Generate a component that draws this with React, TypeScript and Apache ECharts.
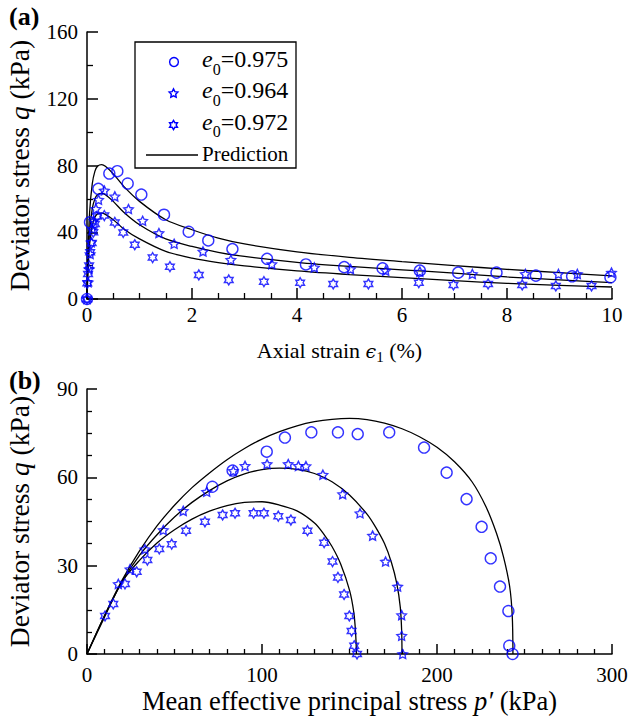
import React, { useEffect, useRef } from 'react';
import * as echarts from 'echarts';

const BLUE = '#0000ff';
const FONT = 'Liberation Serif';
const TICK_FS = 21;

// ---------- Panel (a): deviator stress vs axial strain ----------
const predStrain = [0, 0.02, 0.05, 0.1, 0.15, 0.2, 0.28, 0.35, 0.5, 0.7, 1.0, 1.5, 2.0, 2.5, 3.0, 4.0, 5.0, 6.0, 7.0, 8.0, 9.0, 10.0];
const predQa975 = [0, 28, 52, 69, 76.5, 79.5, 80.5, 79.5, 75, 67.5, 58.5, 47.5, 41.5, 36.5, 33, 28.3, 25, 22.4, 20, 17.8, 15.8, 13.8];
const predQa964 = [0, 22, 41, 54, 60, 62.5, 63.3, 62.5, 58.5, 52, 44.5, 36, 31.5, 28, 25.5, 22, 19.5, 17.5, 15.5, 13.2, 11.5, 9.8];
const predQa972 = [0, 18, 33, 44, 49, 51, 51.5, 50.7, 47.5, 42, 36, 28.5, 24.5, 21.8, 19.8, 16.8, 14.6, 12.8, 11, 9.4, 8.2, 7.2];

const circStrain = [0, 0.057, 0.216, 0.425, 0.578, 0.775, 1.035, 1.467, 1.937, 2.31, 2.77, 3.43, 4.17, 4.9, 5.63, 6.34, 7.07, 7.8, 8.55, 9.24, 9.97];
const circQa = [0, 46, 66, 75.2, 76.6, 69.2, 62.6, 50.5, 40.3, 35.1, 29.9, 24.1, 20.7, 19.1, 18.4, 17, 15.8, 15.8, 14, 13.6, 13];

const star5Strain = [0, 0.02, 0.04, 0.06, 0.08, 0.1, 0.13, 0.17, 0.22, 0.33, 0.53, 0.79, 1.06, 1.37, 1.66, 2.21, 2.74, 3.52, 4.33, 5.02, 5.69, 6.34, 7.34, 8.35, 8.98, 9.34, 9.99];
const star5Qa = [0, 10, 18, 27, 34, 42, 47, 54, 59.5, 65, 61.5, 53.9, 46.9, 39.5, 33.1, 28.5, 23.5, 20.9, 18.9, 17.9, 17, 16.4, 15, 15, 15, 15, 15.8];

const star6Strain = [0, 0.006, 0.02, 0.04, 0.06, 0.09, 0.12, 0.15, 0.19, 0.33, 0.53, 0.69, 0.91, 1.25, 1.58, 2.13, 2.7, 3.37, 4.06, 4.69, 5.36, 6.32, 6.98, 7.64, 8.29, 8.93, 9.61];
const star6Qa = [0, 9.4, 15, 20, 28, 33.5, 40, 45, 49.5, 50, 45.9, 39.9, 32.5, 24.8, 19.4, 14.4, 11.4, 10.4, 9.8, 9.0, 9.0, 9.8, 8.4, 9.0, 8.4, 7.8, 7.8];

// ---------- Panel (b): stress path q vs p' ----------
const predP975 = [0, 10, 20, 30, 40, 50, 60, 70, 80, 90, 100, 110, 120, 130, 140, 150, 160, 170, 180, 190, 200, 210, 220, 228, 234, 238, 241.5, 243, 243.4];
const predQb975 = [0, 13, 25, 35, 43.5, 50.5, 56.5, 61.5, 66, 69.8, 73, 75.5, 77.5, 78.9, 79.7, 80, 79.6, 78.4, 76.5, 73.8, 70.2, 65.3, 58.5, 50, 41, 33, 23, 13, 0];
const predP964 = [0, 10, 20, 30, 40, 50, 60, 70, 80, 90, 100, 110, 120, 130, 140, 150, 160, 165, 170, 174, 177, 179, 179.8, 180];
const predQb964 = [0, 13, 24.5, 33.5, 40.5, 46.5, 51.5, 55.5, 58.8, 61.2, 62.6, 63.1, 62.7, 61.3, 58.5, 54, 47.5, 43, 37.5, 31, 24, 16, 8, 0];
const predP972 = [0, 10, 20, 30, 40, 50, 60, 70, 80, 90, 100, 110, 120, 130, 135, 140, 145, 150, 152.5, 153.5, 154];
const predQb972 = [0, 12.5, 24.5, 31.8, 37.7, 42.2, 45.8, 48.5, 50.4, 51.5, 51.7, 50.6, 48.6, 44.5, 41, 36.5, 30.5, 21.7, 14, 7, 0];

const circP = [71.6, 83.2, 102.7, 113.1, 128.2, 143.4, 154.7, 172.7, 192.6, 205.5, 216.9, 225.5, 230.7, 236, 240.8, 241.3, 243.2];
const circQb = [56.8, 62.3, 68.7, 73.5, 75.3, 75.3, 74.7, 75.3, 70.1, 61.6, 52.6, 43.2, 32.5, 22.9, 14.6, 2.8, 0];

const star5P = [17.9, 24.6, 33.1, 43.6, 55, 68.4, 83.6, 90.3, 102.9, 115, 120.8, 125.1, 134.8, 146.1, 156, 163.2, 170.6, 177.5, 179.8, 179.8, 180.4];
const star5Qb = [23.8, 28.8, 35.6, 42.1, 48.6, 55.1, 62.2, 63.9, 64.5, 64.5, 63.9, 63.8, 60.9, 54.3, 47.8, 40.2, 31.4, 22.9, 13.2, 6.2, 0];

const star6P = [10.3, 15, 21.7, 28.4, 34.5, 41.3, 48.4, 56.6, 67.4, 77.5, 84.6, 95.2, 101.1, 109.3, 116.5, 126, 135.5, 140.3, 143.4, 146.9, 149.9, 151.2, 152.7, 154.3];
const star6Qb = [12.9, 17, 23.8, 27.9, 31.9, 35.7, 37.3, 41.9, 44.9, 47.2, 47.8, 47.8, 47.8, 46.8, 45.5, 41.9, 37.8, 31.4, 26, 20.2, 12.9, 7.8, 2.8, 0];

const legendNames = ['0.975', '0.964', '0.972'];

// ---------- helpers ----------
const zip = (xs: number[], ys: number[]) => xs.map((x, i) => [x, ys[i]]);

function starPts(cx: number, cy: number, R: number, r: number, n: number): number[][] {
  const pts: number[][] = [];
  for (let k = 0; k < 2 * n; k++) {
    const rad = k % 2 === 0 ? R : r;
    const a = -Math.PI / 2 + (k * Math.PI) / n;
    pts.push([cx + rad * Math.cos(a), cy + rad * Math.sin(a)]);
  }
  return pts;
}
function starPath(n: number, ratio: number) {
  const p = starPts(0, 0, 10, 10 * ratio, n);
  return 'path://M' + p.map((q) => q[0].toFixed(3) + ' ' + q[1].toFixed(3)).join(' L') + ' Z';
}
const STAR5 = starPath(5, 0.5);
const STAR6 = starPath(6, 0.5774);

const richTitle = (fs: number) => ({
  n: { fontFamily: FONT, fontSize: fs, color: '#000' },
  i: { fontFamily: FONT, fontSize: fs, fontStyle: 'italic', color: '#000' },
  e: { fontFamily: 'DejaVu Serif', fontSize: fs - 3, fontStyle: 'italic', color: '#000' },
  s: { fontFamily: FONT, fontSize: Math.round(fs * 0.66), color: '#000', padding: [Math.round(fs * 0.55), 0, 0, 0] },
});

const axisCommon = (gridIndex: number, tickLen: number, fs: number, pad: number[] = [0, 0, 0, 0]) => ({
  gridIndex,
  type: 'value' as const,
  axisLine: { show: true, onZero: false, lineStyle: { color: '#000', width: 1.5 } },
  axisTick: { show: true, inside: true, length: tickLen, lineStyle: { color: '#000', width: 1.5 } },
  splitLine: { show: false },
  nameLocation: 'middle' as const,
  nameTextStyle: { color: '#000', fontFamily: FONT, fontSize: fs, padding: pad, rich: richTitle(fs) },
});
const labelStyle = (margin: number) => ({ color: '#000', fontFamily: FONT, fontSize: TICK_FS, fontWeight: 'normal', margin });
const minor = (splitNumber: number, length: number) => ({ show: true, splitNumber, length, lineStyle: { color: '#000', width: 1.3 } });

const lineS = (xi: number, data: number[][]) => ({
  type: 'line',
  xAxisIndex: xi,
  yAxisIndex: xi,
  data,
  showSymbol: false,
  symbol: 'none',
  smooth: 0.3,
  lineStyle: { color: '#000', width: 1.3 },
  z: 2,
});
const scat = (xi: number, data: number[][], symbol: string, size: number | number[]) => ({
  type: 'scatter',
  xAxisIndex: xi,
  yAxisIndex: xi,
  data,
  symbol,
  symbolSize: size,
  itemStyle: { color: 'rgba(0,0,0,0)', borderColor: BLUE, borderWidth: 1.4 },
  z: 3,
});

export default function App() {
  const ref = useRef<HTMLDivElement>(null);
  useEffect(() => {
    const chart = echarts.init(ref.current!, null, { renderer: 'svg' });

    const legRich = {
      i: { fontFamily: FONT, fontSize: 24, fontStyle: 'italic', color: '#000' },
      s: { fontFamily: FONT, fontSize: 16, color: '#000', padding: [20, 0, 0, 0] },
      n: { fontFamily: FONT, fontSize: 24, color: '#000' },
    };
    const legendRows = [59, 90, 121.5];
    const markerEls: any[] = [
      { type: 'circle', shape: { cx: 174, cy: 62, r: 4.4 }, style: { fill: 'none', stroke: BLUE, lineWidth: 1.4 } },
      { type: 'polygon', shape: { points: starPts(173.5, 93.5, 4.6, 2.3, 5) }, style: { fill: 'none', stroke: BLUE, lineWidth: 1.4 } },
      { type: 'polygon', shape: { points: starPts(173.5, 125, 4.6, 2.66, 6) }, style: { fill: 'none', stroke: BLUE, lineWidth: 1.4 } },
    ];
    const textEls = legendNames.map((nm, k) => ({
      type: 'text',
      x: 202,
      y: legendRows[k],
      style: { text: `{i|e}{s|0}{n|=${nm}}`, rich: legRich, verticalAlign: 'middle', align: 'left' },
    }));

    const gridBase = { outerBoundsMode: 'none', containLabel: false };
    const option: any = {
      animation: false,
      backgroundColor: '#fff',
      textStyle: { fontFamily: FONT, color: '#000' },
      grid: [
        { ...gridBase, left: 87, top: 32, width: 525, height: 267 },
        { ...gridBase, left: 87, top: 389, width: 525, height: 265 },
      ],
      xAxis: [
        {
          ...axisCommon(0, 11, 22, [0, 20, 0, 0]),
          min: 0, max: 10, interval: 2,
          minorTick: minor(4, 6),
          axisLabel: labelStyle(5),
          name: '{n|Axial strain }{e|ϵ}{s|1}{n| (%)}',
          nameGap: 38,
        },
        {
          ...axisCommon(1, 10, 26.5),
          min: 0, max: 300, interval: 100,
          minorTick: minor(10, 5),
          axisLabel: labelStyle(10),
          name: '{n|Mean effective principal stress }{i|p′}{n| (kPa)}',
          nameGap: 33,
        },
      ],
      yAxis: [
        {
          ...axisCommon(0, 11, 27.5),
          min: 0, max: 160, interval: 40,
          minorTick: minor(2, 6),
          axisLabel: labelStyle(9),
          name: '{n|Deviator stress }{i|q}{n| (kPa)}',
          nameGap: 54,
        },
        {
          ...axisCommon(1, 10, 27.5),
          min: 0, max: 90, interval: 30,
          minorTick: minor(4, 5),
          axisLabel: labelStyle(9),
          name: '{n|Deviator stress }{i|q}{n| (kPa)}',
          nameGap: 54,
        },
      ],
      series: [
        lineS(0, zip(predStrain, predQa975)),
        lineS(0, zip(predStrain, predQa964)),
        lineS(0, zip(predStrain, predQa972)),
        scat(0, zip(circStrain, circQa), 'circle', 11),
        scat(0, zip(star5Strain, star5Qa), STAR5, [9.5, 9]),
        scat(0, zip(star6Strain, star6Qa), STAR6, [8.7, 10]),
        lineS(1, zip(predP975, predQb975)),
        lineS(1, zip(predP964, predQb964)),
        lineS(1, zip(predP972, predQb972)),
        scat(1, zip(circP, circQb), 'circle', 11),
        scat(1, zip(star5P, star5Qb), STAR5, [9.5, 9]),
        scat(1, zip(star6P, star6Qb), STAR6, [8.7, 10]),
      ],
      graphic: [
        { type: 'text', x: 9, y: 16, style: { text: '(a)', fontFamily: FONT, fontSize: 26, fontWeight: 'bold', fill: '#000', verticalAlign: 'middle' } },
        { type: 'text', x: 9, y: 380, style: { text: '(b)', fontFamily: FONT, fontSize: 26, fontWeight: 'bold', fill: '#000', verticalAlign: 'middle' } },
        { type: 'rect', shape: { x: 135, y: 42, width: 161, height: 126 }, style: { fill: '#fff', stroke: '#000', lineWidth: 1.3 }, z: 10 },
        ...markerEls.map((m) => ({ ...m, z: 11 })),
        ...textEls.map((t) => ({ ...t, z: 11 })),
        { type: 'line', shape: { x1: 146, y1: 155, x2: 198, y2: 155 }, style: { stroke: '#000', lineWidth: 1.3 }, z: 11 },
        { type: 'text', x: 202, y: 153.5, style: { text: 'Prediction', fontFamily: FONT, fontSize: 21, fill: '#000', verticalAlign: 'middle' }, z: 11 },
      ],
    };
    chart.setOption(option);
    return () => chart.dispose();
  }, []);
  return <div ref={ref} style={{ position: 'fixed', left: 0, top: 0, width: 633, height: 720, background: '#fff' }} />;
}
